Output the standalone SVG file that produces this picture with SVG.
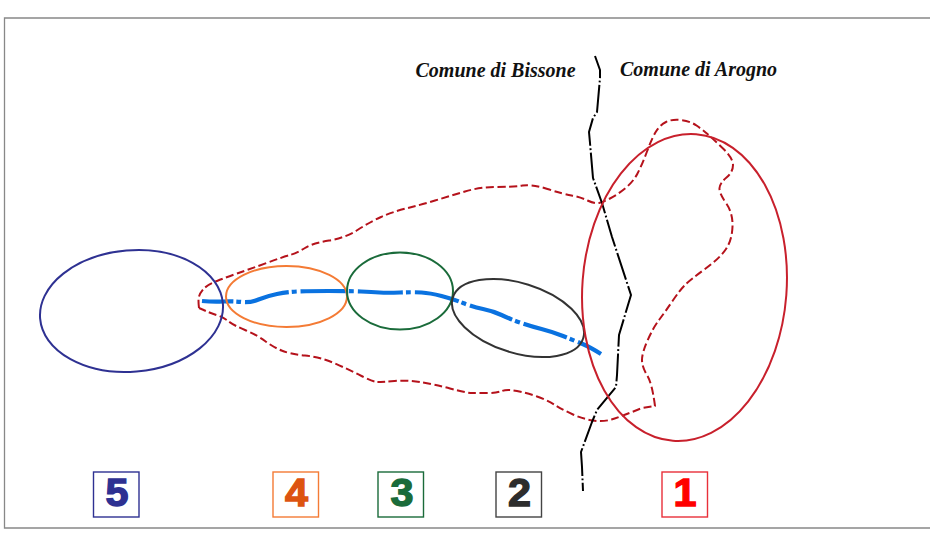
<svg xmlns="http://www.w3.org/2000/svg" width="930" height="540" viewBox="0 0 930 540">
<style>
.e{fill:none;stroke-width:2}
.b{fill:#fff;stroke-width:1.4}
.d{font-family:"Liberation Sans",Arial,sans-serif;font-weight:700;font-size:38px;text-anchor:middle;stroke-width:1.3}
.t{font-family:"Liberation Serif","Times New Roman",serif;font-weight:700;font-style:italic;font-size:20px;fill:#111}
.l{fill:none;stroke-linejoin:round;stroke-linecap:butt}
</style>
<rect width="930" height="540" fill="#fff"/>
<path d="M930 18H4.500V528H930" fill="none" stroke="#888" stroke-width="1.300"/>
<g id="connectors">
<path class="l" stroke="#b5121b" stroke-width="2" stroke-dasharray="8 3.500" d="M199 308Q198 300 199 296.500T203.500 289T217 281T238.500 273T266.500 263T290 255T305 248T329 240.500T357.500 230T381 217T406 208.500T435 200.500T465 191.500T496.500 187T522.500 185.500T547.500 189T571.500 195.500T587.500 200.500T599 203T610 198.500T625 188.500T637.500 173.500T647 151.500T656 131.500T666 122T681 120T696.500 125.500T707.500 134T722.500 148T733 165T726.500 177.500T719.500 188T726 203T732.500 226.500T726 249T705 269T685 285T672.500 301T659 320T647.500 340.500T642 360T647 375T655 406L642 408Q620 417 611.500 419.500T593 420.500T573 414.500T555 405T537 396.500T517 391T502 391T487 393T472 393T450 388.500T420 382T394.500 381T377.500 382T361.500 376T335 363.500T305 355.500T281.500 350.500T265 341T245 330T228 321T216.500 315T199 308"/>
<polyline class="l" stroke="#000" stroke-width="2" stroke-dasharray="28 2.500 1.800 2.500" stroke-dashoffset="5" points="595,56 600,70 600,78 597,112 593,118 589,132 590,143 593,178 602,203 612,237 631,295 619,335 617,375 616,387 597,410 592,422 581,452 582,467 583,491"/>
<path class="l" stroke="#0a72e0" stroke-width="4.200" stroke-dasharray="45 3 5 4" stroke-dashoffset="14" d="M202 301Q213 302 223 301.500T241.500 302T258.500 299.500T277 294T297 291.500T328.500 291T361 291.500T379.500 292.500T400 292.500T421.500 292.500T441.500 296T463 303T483 309T501.500 315T520 322.500T541.500 329T563 336T581.500 343.500T601 354"/>
</g>
<g id="node-5">
<ellipse class="e" stroke="#2e3192" cx="131.500" cy="311" rx="91.700" ry="60.700" transform="rotate(-4.800 131.500 311)"/>
<rect class="b" stroke="#2e3192" x="93.500" y="472" width="45.500" height="45"/>
<text class="d" fill="#2e3192" stroke="#2e3192" x="117" y="506" textLength="23" lengthAdjust="spacingAndGlyphs">5</text>
</g>
<g id="node-4">
<ellipse class="e" stroke="#f47b35" cx="286.500" cy="296.500" rx="60.500" ry="30.500"/>
<rect class="b" stroke="#f47b35" x="273" y="472" width="45.500" height="45"/>
<text class="d" fill="#dd5410" stroke="#dd5410" x="296.500" y="506" textLength="23" lengthAdjust="spacingAndGlyphs">4</text>
</g>
<g id="node-3">
<ellipse class="e" stroke="#1a6b3a" cx="400" cy="291" rx="53" ry="38.500"/>
<rect class="b" stroke="#1a6b3a" x="378" y="472" width="45.500" height="45"/>
<text class="d" fill="#1a6b3a" stroke="#1a6b3a" x="402" y="506" textLength="23" lengthAdjust="spacingAndGlyphs">3</text>
</g>
<g id="node-2">
<ellipse class="e" stroke="#333" cx="518" cy="318" rx="68.300" ry="34.900" transform="rotate(17.300 518 318)"/>
<rect class="b" stroke="#444" x="496" y="472" width="45.500" height="45"/>
<text class="d" fill="#2d2d2d" stroke="#2d2d2d" x="519.500" y="506" textLength="23" lengthAdjust="spacingAndGlyphs">2</text>
</g>
<g id="node-1">
<ellipse class="e" stroke="#c8202c" cx="684.500" cy="287.500" rx="102.100" ry="153.700" transform="rotate(4.350 684.500 287.500)"/>
<rect class="b" stroke="#e8303a" x="662" y="472" width="45.500" height="45"/>
<text class="d" fill="#f00" stroke="#f00" x="685" y="506" textLength="23" lengthAdjust="spacingAndGlyphs">1</text>
</g>
<text class="t" x="415.500" y="77">Comune di Bissone</text>
<text class="t" x="620" y="76">Comune di Arogno</text>
</svg>
